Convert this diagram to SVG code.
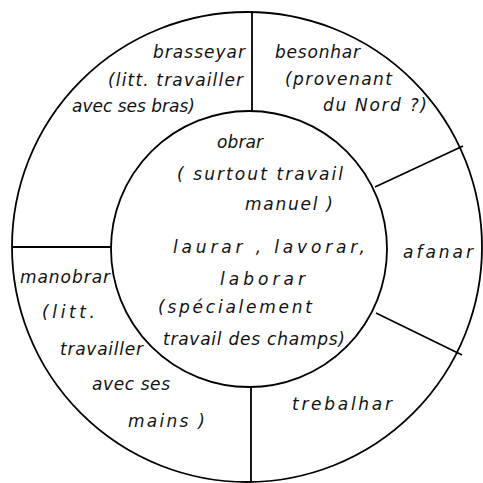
<svg xmlns="http://www.w3.org/2000/svg" width="483" height="483" viewBox="0 0 483 483">
<style>
.ring{fill:none;stroke:#000;stroke-width:1.8}
.div{stroke:#000;stroke-width:1.8;fill:none}
text{font-family:"DejaVu Sans","Liberation Sans",sans-serif;font-style:italic;font-size:17px;fill:#111}
</style>
<rect width="483" height="483" fill="#fff"/>
<circle class="ring" cx="247" cy="247" r="235"/>
<circle class="ring" cx="249" cy="249" r="138"/>
<g id="connectors">
<line class="div" x1="252" y1="11" x2="252" y2="111"/>
<line class="div" x1="12" y1="247" x2="111" y2="247"/>
<line class="div" x1="251" y1="387" x2="251" y2="483"/>
<line class="div" x1="375" y1="187" x2="463" y2="146"/>
<line class="div" x1="376" y1="313" x2="462" y2="355"/>
</g>
<g id="brasseyar">
<text x="153" y="58" textLength="92" lengthAdjust="spacing">brasseyar</text>
<text x="108" y="86" textLength="135" lengthAdjust="spacing">(litt. travailler</text>
<text x="72" y="112" textLength="123" lengthAdjust="spacing">avec ses bras)</text>
</g>
<g id="besonhar">
<text x="275" y="58" textLength="85" lengthAdjust="spacing">besonhar</text>
<text x="285" y="85" textLength="107" lengthAdjust="spacing">(provenant</text>
<text x="323" y="111" textLength="104" lengthAdjust="spacing">du Nord ?)</text>
</g>
<g id="centre">
<text x="217" y="148" textLength="46" lengthAdjust="spacing">obrar</text>
<text x="177" y="180" textLength="166" lengthAdjust="spacing">( surtout travail</text>
<text x="245" y="210" textLength="88" lengthAdjust="spacing">manuel )</text>
<text x="173" y="253" textLength="192" lengthAdjust="spacing">laurar , lavorar,</text>
<text x="220" y="285" textLength="85" lengthAdjust="spacing">laborar</text>
<text x="158" y="313" textLength="154" lengthAdjust="spacing">(spécialement</text>
<text x="163" y="345" textLength="182" lengthAdjust="spacing">travail des champs)</text>
</g>
<g id="afanar">
<text x="403" y="258" textLength="70" lengthAdjust="spacing">afanar</text>
</g>
<g id="manobrar">
<text x="20" y="283" textLength="90" lengthAdjust="spacing">manobrar</text>
<text x="42" y="318" textLength="53" lengthAdjust="spacing">(litt.</text>
<text x="60" y="355" textLength="83" lengthAdjust="spacing">travailler</text>
<text x="92" y="390" textLength="78" lengthAdjust="spacing">avec ses</text>
<text x="128" y="427" textLength="77" lengthAdjust="spacing">mains )</text>
</g>
<g id="trebalhar">
<text x="292" y="410" textLength="100" lengthAdjust="spacing">trebalhar</text>
</g>
</svg>
